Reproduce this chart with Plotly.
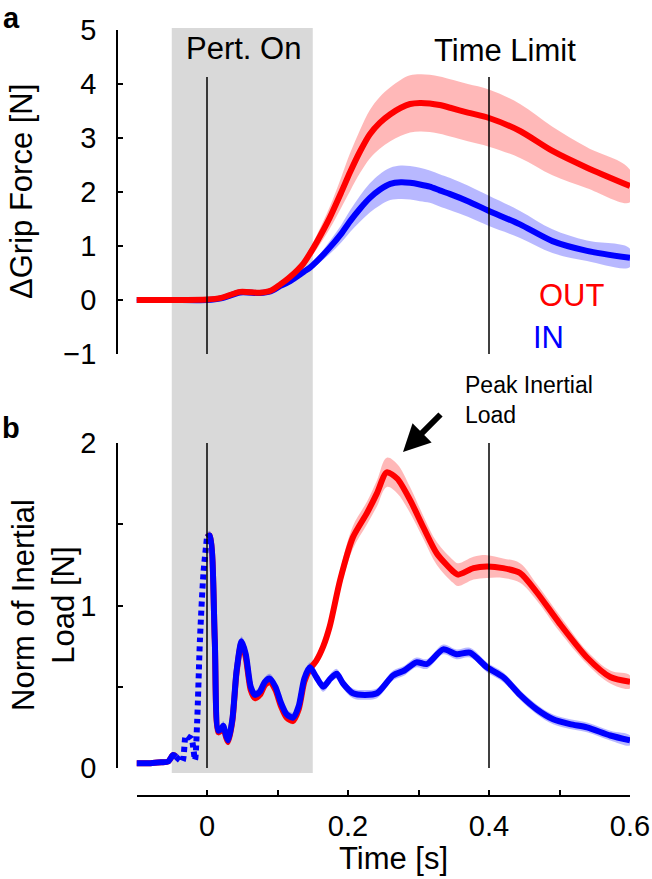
import plotly.graph_objects as go

W, H = 652, 879
FONT = "Liberation Sans, Arial, sans-serif"

# ---------------- Panel a: delta grip force ----------------
t_a = [-0.1, -0.05, 0.0, 0.02, 0.047, 0.075, 0.09, 0.104, 0.118, 0.137, 0.146, 0.156,
       0.174, 0.19, 0.203, 0.217, 0.231, 0.245, 0.26, 0.275, 0.288, 0.302, 0.316, 0.33,
       0.345, 0.37, 0.4, 0.444, 0.49, 0.539, 0.6]
grip_out = [0.0, 0.0, 0.01, 0.04, 0.15, 0.135, 0.17, 0.29, 0.43, 0.68, 0.86, 1.08,
            1.52, 1.98, 2.37, 2.75, 3.07, 3.28, 3.44, 3.56, 3.63, 3.65, 3.64, 3.61,
            3.56, 3.47, 3.37, 3.13, 2.76, 2.45, 2.11]
grip_out_sem = [0.02, 0.02, 0.02, 0.02, 0.03, 0.03, 0.03, 0.04, 0.06, 0.08, 0.1, 0.13,
                0.2, 0.28, 0.35, 0.4, 0.45, 0.48, 0.5, 0.52, 0.53, 0.53, 0.53, 0.53,
                0.53, 0.53, 0.53, 0.5, 0.45, 0.38, 0.3]
grip_in = [0.0, 0.0, 0.0, 0.03, 0.14, 0.13, 0.16, 0.26, 0.35, 0.52, 0.6, 0.72,
           0.97, 1.22, 1.46, 1.69, 1.89, 2.04, 2.15, 2.18, 2.17, 2.14, 2.1, 2.03,
           1.96, 1.83, 1.65, 1.4, 1.09, 0.91, 0.78]
grip_in_sem = [0.02, 0.02, 0.02, 0.02, 0.03, 0.03, 0.03, 0.03, 0.04, 0.05, 0.05, 0.07,
               0.12, 0.16, 0.2, 0.24, 0.27, 0.29, 0.3, 0.31, 0.31, 0.31, 0.3, 0.3,
               0.3, 0.29, 0.28, 0.25, 0.22, 0.19, 0.17]

# ---------------- Panel b: norm of inertial load ----------------
t_pre = [-0.1, -0.08, -0.065, -0.055, -0.048, -0.044]
load_pre = [0.03, 0.03, 0.035, 0.04, 0.08, 0.07]
t_dot = [-0.044, -0.035, -0.03, -0.026, -0.022, -0.017, -0.014, -0.01, -0.005, 0.0]
load_dot = [0.07, 0.04, 0.2, 0.19, 0.18, 0.05, 0.28, 0.79, 1.2, 1.42]

t_in_b = [0.0, 0.004, 0.011, 0.016, 0.02, 0.023, 0.027, 0.03, 0.036, 0.042, 0.049, 0.055,
          0.062, 0.068, 0.075, 0.082, 0.089, 0.097, 0.105, 0.113, 0.122, 0.13, 0.138,
          0.146, 0.155, 0.165, 0.175, 0.184, 0.193, 0.207, 0.224, 0.241, 0.264, 0.28,
          0.297, 0.312, 0.335, 0.354, 0.373, 0.397, 0.42, 0.444, 0.468, 0.491, 0.515,
          0.539, 0.572, 0.6]
load_in = [1.42, 1.43, 0.79, 0.23, 0.24, 0.26, 0.2, 0.17, 0.3, 0.6, 0.78, 0.7,
           0.5, 0.45, 0.47, 0.53, 0.55, 0.5, 0.4, 0.33, 0.31, 0.38, 0.55,
           0.62, 0.56, 0.5, 0.55, 0.58, 0.52, 0.46, 0.45, 0.46, 0.57, 0.6,
           0.65, 0.64, 0.73, 0.7, 0.71, 0.62, 0.56, 0.45, 0.36, 0.3, 0.27,
           0.25, 0.2, 0.17]
load_in_sem = 0.03

t_out_b = [0.0, 0.004, 0.011, 0.016, 0.02, 0.023, 0.027, 0.03, 0.036, 0.042, 0.049, 0.055,
           0.062, 0.068, 0.075, 0.082, 0.089, 0.097, 0.105, 0.113, 0.122, 0.13, 0.138,
           0.146, 0.155, 0.165, 0.174, 0.189, 0.207, 0.227, 0.241, 0.255, 0.27, 0.288,
           0.307, 0.326, 0.349, 0.356, 0.378, 0.397, 0.42, 0.444, 0.468, 0.5, 0.539,
           0.572, 0.6]
load_out = [1.42, 1.43, 0.79, 0.22, 0.23, 0.25, 0.19, 0.16, 0.29, 0.59, 0.77, 0.68,
            0.48, 0.43, 0.45, 0.51, 0.53, 0.48, 0.38, 0.31, 0.29, 0.36, 0.53,
            0.61, 0.66, 0.75, 0.87, 1.16, 1.42, 1.57, 1.69, 1.82, 1.78, 1.65,
            1.48, 1.32, 1.21, 1.19, 1.23, 1.24, 1.23, 1.2, 1.08, 0.89, 0.68,
            0.56, 0.53]
load_out_sem = [0.02] * 24 + [0.03, 0.04, 0.05, 0.06, 0.07, 0.07, 0.08, 0.09, 0.09, 0.08,
                              0.07, 0.07, 0.07, 0.07, 0.07, 0.07, 0.06, 0.06, 0.05, 0.05,
                              0.04, 0.04, 0.04]

x_tickvals = [-0.1, 0.0, 0.1, 0.2, 0.3, 0.4, 0.5, 0.6]
x_ticktext = ["", "0", "", "0.2", "", "0.4", "", "0.6"]
ya_tickvals = [-1, 0, 1, 2, 3, 4, 5]
yb_tickvals = [0, 0.5, 1, 1.5, 2]
yb_ticktext = ["0", "", "1", "", "2"]

RED = "#ff0000"
BLUE = "#0000ff"
RED_BAND = "rgba(255,0,0,0.28)"
BLUE_BAND = "rgba(0,0,255,0.28)"


def px_x(p):
    return p / W


def px_y(p):
    return 1 - p / H


def as_list(s, n):
    return s if isinstance(s, list) else [s] * n


def band(t, v, s, color, xa, ya):
    s = as_list(s, len(v))
    up = [a + b for a, b in zip(v, s)]
    lo = [a - b for a, b in zip(v, s)]
    return go.Scatter(x=list(t) + list(t)[::-1], y=up + lo[::-1], fill="toself",
                      fillcolor=color, line=dict(width=0), mode="lines",
                      line_shape="spline", hoverinfo="skip", showlegend=False,
                      xaxis=xa, yaxis=ya)


def line(t, v, color, xa, ya, width=6, dash="solid"):
    return go.Scatter(x=t, y=v, mode="lines",
                      line=dict(color=color, width=width, dash=dash, shape="spline",
                                smoothing=0.7),
                      showlegend=False, hoverinfo="skip", xaxis=xa, yaxis=ya)


fig = go.Figure()
# panel a (x2, y2)
fig.add_trace(band(t_a, grip_in, grip_in_sem, BLUE_BAND, "x2", "y2"))
fig.add_trace(band(t_a, grip_out, grip_out_sem, RED_BAND, "x2", "y2"))
fig.add_trace(line(t_a, grip_in, BLUE, "x2", "y2"))
fig.add_trace(line(t_a, grip_out, RED, "x2", "y2"))

# panel b (x, y)
fig.add_trace(band(t_out_b, load_out, load_out_sem, RED_BAND, "x", "y"))
fig.add_trace(band(t_in_b, load_in, load_in_sem, BLUE_BAND, "x", "y"))
fig.add_trace(line(t_out_b, load_out, RED, "x", "y"))
fig.add_trace(line(t_pre, load_pre, RED, "x", "y"))
fig.add_trace(line(t_pre, load_pre, BLUE, "x", "y"))
fig.add_trace(line(t_dot, load_dot, BLUE, "x", "y", width=6, dash="5px,4px"))
fig.add_trace(line(t_in_b, load_in, BLUE, "x", "y"))

xdom = [px_x(136.5), px_x(630)]
shapes = [
    dict(type="rect", xref="x", yref="paper", x0=-0.05, x1=0.15,
         y0=px_y(773), y1=px_y(28), fillcolor="#d9d9d9", line=dict(width=0),
         layer="below"),
    dict(type="line", xref="x2", yref="y2", x0=0, x1=0, y0=-1, y1=4.13,
         line=dict(color="black", width=1.5)),
    dict(type="line", xref="x2", yref="y2", x0=0.4, x1=0.4, y0=-1, y1=4.13,
         line=dict(color="black", width=1.5)),
    dict(type="line", xref="x", yref="y", x0=0, x1=0, y0=0, y1=2,
         line=dict(color="black", width=1.5)),
    dict(type="line", xref="x", yref="y", x0=0.4, x1=0.4, y0=0, y1=2,
         line=dict(color="black", width=1.5)),
]

TS = 31
tf = dict(family=FONT, size=TS, color="black")
ann = [
    dict(text="<b>a</b>", x=px_x(11), y=px_y(18), font=dict(family=FONT, size=29, color="black")),
    dict(text="<b>b</b>", x=px_x(11), y=px_y(428), font=dict(family=FONT, size=29, color="black")),
    dict(text="Pert. On", x=px_x(243), y=px_y(48), font=tf),
    dict(text="Time Limit", x=px_x(505), y=px_y(50), font=tf),
    dict(text="OUT", x=px_x(572), y=px_y(295), font=dict(family=FONT, size=TS, color=RED)),
    dict(text="IN", x=px_x(548), y=px_y(337), font=dict(family=FONT, size=TS, color=BLUE)),
    dict(text="Peak Inertial<br>Load", x=px_x(463), y=px_y(400), xanchor="left",
         align="left", font=dict(family=FONT, size=23, color="black")),
    dict(text="ΔGrip Force [N]", x=px_x(21), y=px_y(192), textangle=-90, font=tf),
    dict(text="Norm of Inertial<br>Load [N]", x=px_x(43), y=px_y(605), textangle=-90,
         font=tf),
    dict(text="Time [s]", x=px_x(393), y=px_y(858), font=tf),
    dict(text="", x=px_x(403), y=px_y(452), ax=39, ay=-39, showarrow=True,
         arrowhead=2, arrowsize=0.9, arrowwidth=6, arrowcolor="black"),
]
for a in ann:
    a.setdefault("xref", "paper")
    a.setdefault("yref", "paper")
    a.setdefault("showarrow", False)
    a.setdefault("xanchor", "center")
    a.setdefault("yanchor", "middle")

axis_common = dict(showgrid=False, zeroline=False, showline=True, linecolor="black",
                   linewidth=1.5, ticks="inside", ticklen=5, tickwidth=1.5,
                   tickcolor="black", tickfont=dict(family=FONT, size=29, color="black"),
                   automargin=False, fixedrange=True)

fig.update_layout(
    width=W, height=H, margin=dict(l=0, r=0, t=0, b=0),
    paper_bgcolor="white", plot_bgcolor="rgba(0,0,0,0)",
    showlegend=False,
    xaxis=dict(domain=xdom, range=[-0.1, 0.6], anchor="free", position=px_y(796),
               tickvals=x_tickvals, ticktext=x_ticktext, ticklabelstandoff=4,
               **axis_common),
    yaxis=dict(domain=[px_y(768), px_y(443)], range=[0, 2], anchor="free",
               position=px_x(117), tickvals=yb_tickvals, ticktext=yb_ticktext,
               ticklabelstandoff=14, **axis_common),
    xaxis2=dict(domain=xdom, range=[-0.1, 0.6], anchor="y2", visible=False),
    yaxis2=dict(domain=[px_y(354), px_y(30)], range=[-1, 5], anchor="free",
                position=px_x(117), tickvals=ya_tickvals, ticklabelstandoff=14,
                **axis_common),
    shapes=shapes, annotations=ann,
)

# remove the browser's default 8px page margin so the figure fills the window
fig.write_html("out.html", config={"displayModeBar": False},
               post_script="document.body.style.margin='0px';")
